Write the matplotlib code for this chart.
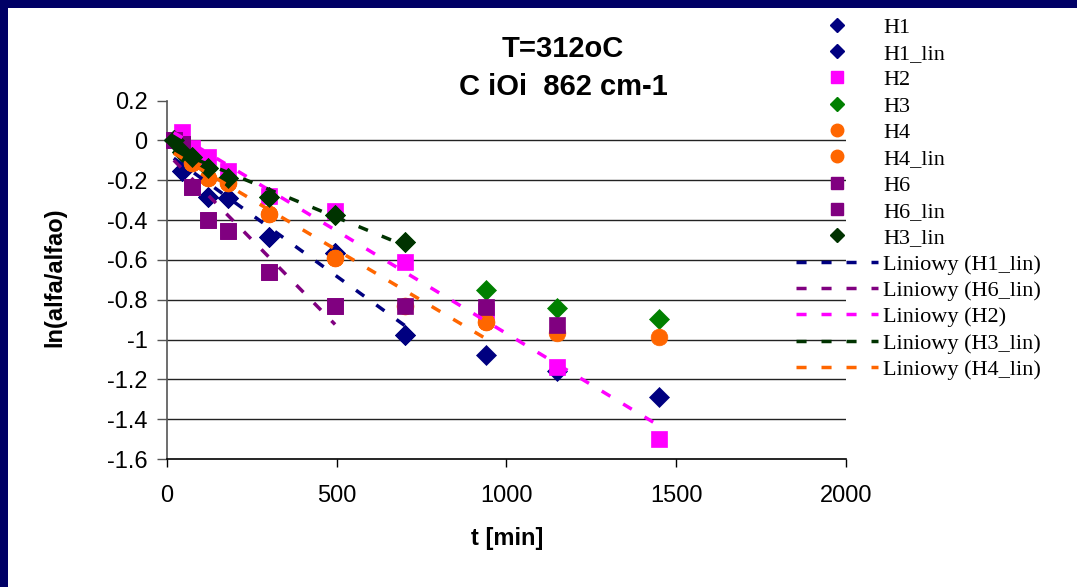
import numpy as np
import matplotlib
matplotlib.use("Agg")
import matplotlib.pyplot as plt
from matplotlib.patches import Rectangle
from matplotlib.lines import Line2D

# ---------------- data ----------------
t_H1 = [20, 45, 120, 180, 300, 495, 700, 940, 1150, 1450]
ln_H1 = [0.0, -0.155, -0.284, -0.29, -0.485, -0.565, -0.975, -1.08, -1.16, -1.29]
t_H1_lin = [20, 45, 120, 180, 300, 495, 700]
ln_H1_lin = [0.0, -0.155, -0.284, -0.29, -0.485, -0.565, -0.975]

t_H2 = [20, 45, 75, 120, 180, 300, 495, 700, 940, 1150, 1450]
ln_H2 = [0.0, 0.04, -0.04, -0.085, -0.155, -0.28, -0.355, -0.61, -0.855, -1.14, -1.5]

t_H3 = [20, 45, 75, 120, 180, 300, 495, 700, 940, 1150, 1450]
ln_H3 = [0.0, -0.06, -0.085, -0.14, -0.19, -0.284, -0.375, -0.51, -0.75, -0.84, -0.895]
t_H3_lin = [20, 45, 75, 120, 180, 300, 495, 700]
ln_H3_lin = [0.0, -0.06, -0.085, -0.14, -0.19, -0.284, -0.375, -0.51]

t_H4 = [20, 75, 120, 180, 300, 495, 700, 940, 1150, 1450]
ln_H4 = [0.0, -0.115, -0.19, -0.215, -0.37, -0.59, -0.83, -0.91, -0.965, -0.985]
t_H4_lin = [20, 75, 120, 180, 300, 495, 700, 940]
ln_H4_lin = [0.0, -0.115, -0.19, -0.215, -0.37, -0.59, -0.83, -0.91]

t_H6 = [20, 45, 75, 120, 180, 300, 495, 700, 940, 1150]
ln_H6 = [0.0, -0.02, -0.235, -0.40, -0.455, -0.66, -0.83, -0.83, -0.835, -0.925]
t_H6_lin = [20, 45, 75, 120, 180, 300, 495]
ln_H6_lin = [0.0, -0.02, -0.235, -0.40, -0.455, -0.66, -0.83]

x_ticks = [0, 500, 1000, 1500, 2000]
y_ticks = [-1.6, -1.4, -1.2, -1.0, -0.8, -0.6, -0.4, -0.2, 0.0, 0.2]
y_tick_labels = ["-1.6", "-1.4", "-1.2", "-1", "-0.8", "-0.6", "-0.4", "-0.2", "0", "0.2"]

title = "T=312oC\nC iOi  862 cm-1"
xlabel = "t [min]"
ylabel = "ln(alfa/alfao)"

# ---------------- styles ----------------
NAVY = "#000080"
MAGENTA = "#FF00FF"
GREEN = "#008000"
ORANGE = "#FF6600"
PURPLE = "#800080"
DKGREEN = "#003300"

SANS = ["Liberation Sans", "DejaVu Sans"]
SERIF = ["Liberation Serif", "DejaVu Serif"]

fig = plt.figure(figsize=(10.77, 5.87), dpi=100)
fig.patch.set_facecolor("white")
W, H = 1077.0, 587.0
ax = fig.add_axes([167 / W, 1 - 459 / H, (846 - 167) / W, (459 - 100.5) / H])

# navy slide border (top and left)
fig.patches.append(Rectangle((0, 1 - 8 / H), 1, 8 / H, transform=fig.transFigure,
                             facecolor="#000066", edgecolor="none", zorder=10))
fig.patches.append(Rectangle((0, 0), 8 / W, 1, transform=fig.transFigure,
                             facecolor="#000066", edgecolor="none", zorder=10))

ms_d, ms_s, ms_o = 10.0, 11.0, 12.0
series = [
    ("H1", t_H1, ln_H1, "D", NAVY, ms_d),
    ("H1_lin", t_H1_lin, ln_H1_lin, "D", NAVY, ms_d),
    ("H2", t_H2, ln_H2, "s", MAGENTA, ms_s),
    ("H3", t_H3, ln_H3, "D", GREEN, ms_d),
    ("H4", t_H4, ln_H4, "o", ORANGE, ms_o),
    ("H4_lin", t_H4_lin, ln_H4_lin, "o", ORANGE, ms_o),
    ("H6", t_H6, ln_H6, "s", PURPLE, ms_s),
    ("H6_lin", t_H6_lin, ln_H6_lin, "s", PURPLE, ms_s),
    ("H3_lin", t_H3_lin, ln_H3_lin, "D", DKGREEN, ms_d),
]
for i, (name, t, v, m, c, ms) in enumerate(series):
    ax.plot(t, v, ls="none", marker=m, color=c, ms=ms, mec=c, mew=0.5,
            zorder=3 + i * 0.01, clip_on=False)

DASH = (2.9, 4.3)
LW = 2.5
trends = [
    ("Liniowy (H1_lin)", t_H1_lin, ln_H1_lin, NAVY),
    ("Liniowy (H6_lin)", t_H6_lin, ln_H6_lin, PURPLE),
    ("Liniowy (H2)", t_H2, ln_H2, MAGENTA),
    ("Liniowy (H3_lin)", t_H3_lin, ln_H3_lin, DKGREEN),
    ("Liniowy (H4_lin)", t_H4_lin, ln_H4_lin, ORANGE),
]
for name, t, v, c in trends:
    k, b = np.polyfit(t, v, 1)
    xs = np.array([min(t), max(t)])
    ax.plot(xs, k * xs + b, color=c, lw=LW, dashes=DASH, zorder=5,
            solid_capstyle="butt", dash_capstyle="butt")

ax.set_xlim(0, 2000)
ax.set_ylim(-1.6, 0.2)
ax.set_xticks(x_ticks)
ax.set_xticklabels([str(x) for x in x_ticks], fontfamily=SANS, fontsize=17)
ax.set_yticks(y_ticks)
ax.set_yticklabels(y_tick_labels, fontfamily=SANS, fontsize=17)
ax.tick_params(axis="x", direction="out", length=6, width=1, color="black", pad=13)
ax.tick_params(axis="y", direction="out", length=7, width=1, color="#555555", pad=7)
ax.yaxis.grid(True, color="#222222", lw=1.0)
ax.set_axisbelow(True)
ax.get_ygridlines()[-1].set_visible(False)
ax.get_ygridlines()[0].set_visible(False)
for s in ["top", "right"]:
    ax.spines[s].set_visible(False)
ax.spines["left"].set_color("#555555")
ax.spines["left"].set_linewidth(1.2)
ax.spines["bottom"].set_color("black")
ax.spines["bottom"].set_linewidth(1.2)

fig.text(563 / W, 1 - 68 / H, title, ha="center", va="center", fontfamily=SANS,
         fontsize=21, fontweight="bold", linespacing=1.45)
fig.text(507 / W, 1 - 538 / H, xlabel, ha="center", va="center", fontfamily=SANS,
         fontsize=17, fontweight="bold")
fig.text(55 / W, 1 - 277 / H, ylabel, ha="center", va="center", rotation=90,
         fontfamily=SANS, fontsize=17, fontweight="bold")

# legend
handles = []
labels = []
lms = {"D": 7.5, "s": 9.0, "o": 9.0}
for name, t, v, m, c, ms in series:
    handles.append(Line2D([], [], ls="none", marker=m, color=c, ms=lms[m], mec=c))
    labels.append(name)
for name, t, v, c in trends:
    handles.append(Line2D([], [], color=c, lw=LW, dashes=DASH, dash_capstyle="butt"))
    labels.append(name)
fs_leg = 16
fs_px = fs_leg * 100 / 72
leg = fig.legend(handles, labels, loc="upper left", bbox_to_anchor=(796 / W, 1 - 17 / H),
                 frameon=False, borderpad=0, borderaxespad=0,
                 handlelength=82 / fs_px, handletextpad=5 / fs_px,
                 labelspacing=0.26, prop={"family": SERIF, "size": fs_leg})

fig.savefig("out.png", dpi=100, facecolor="white")
